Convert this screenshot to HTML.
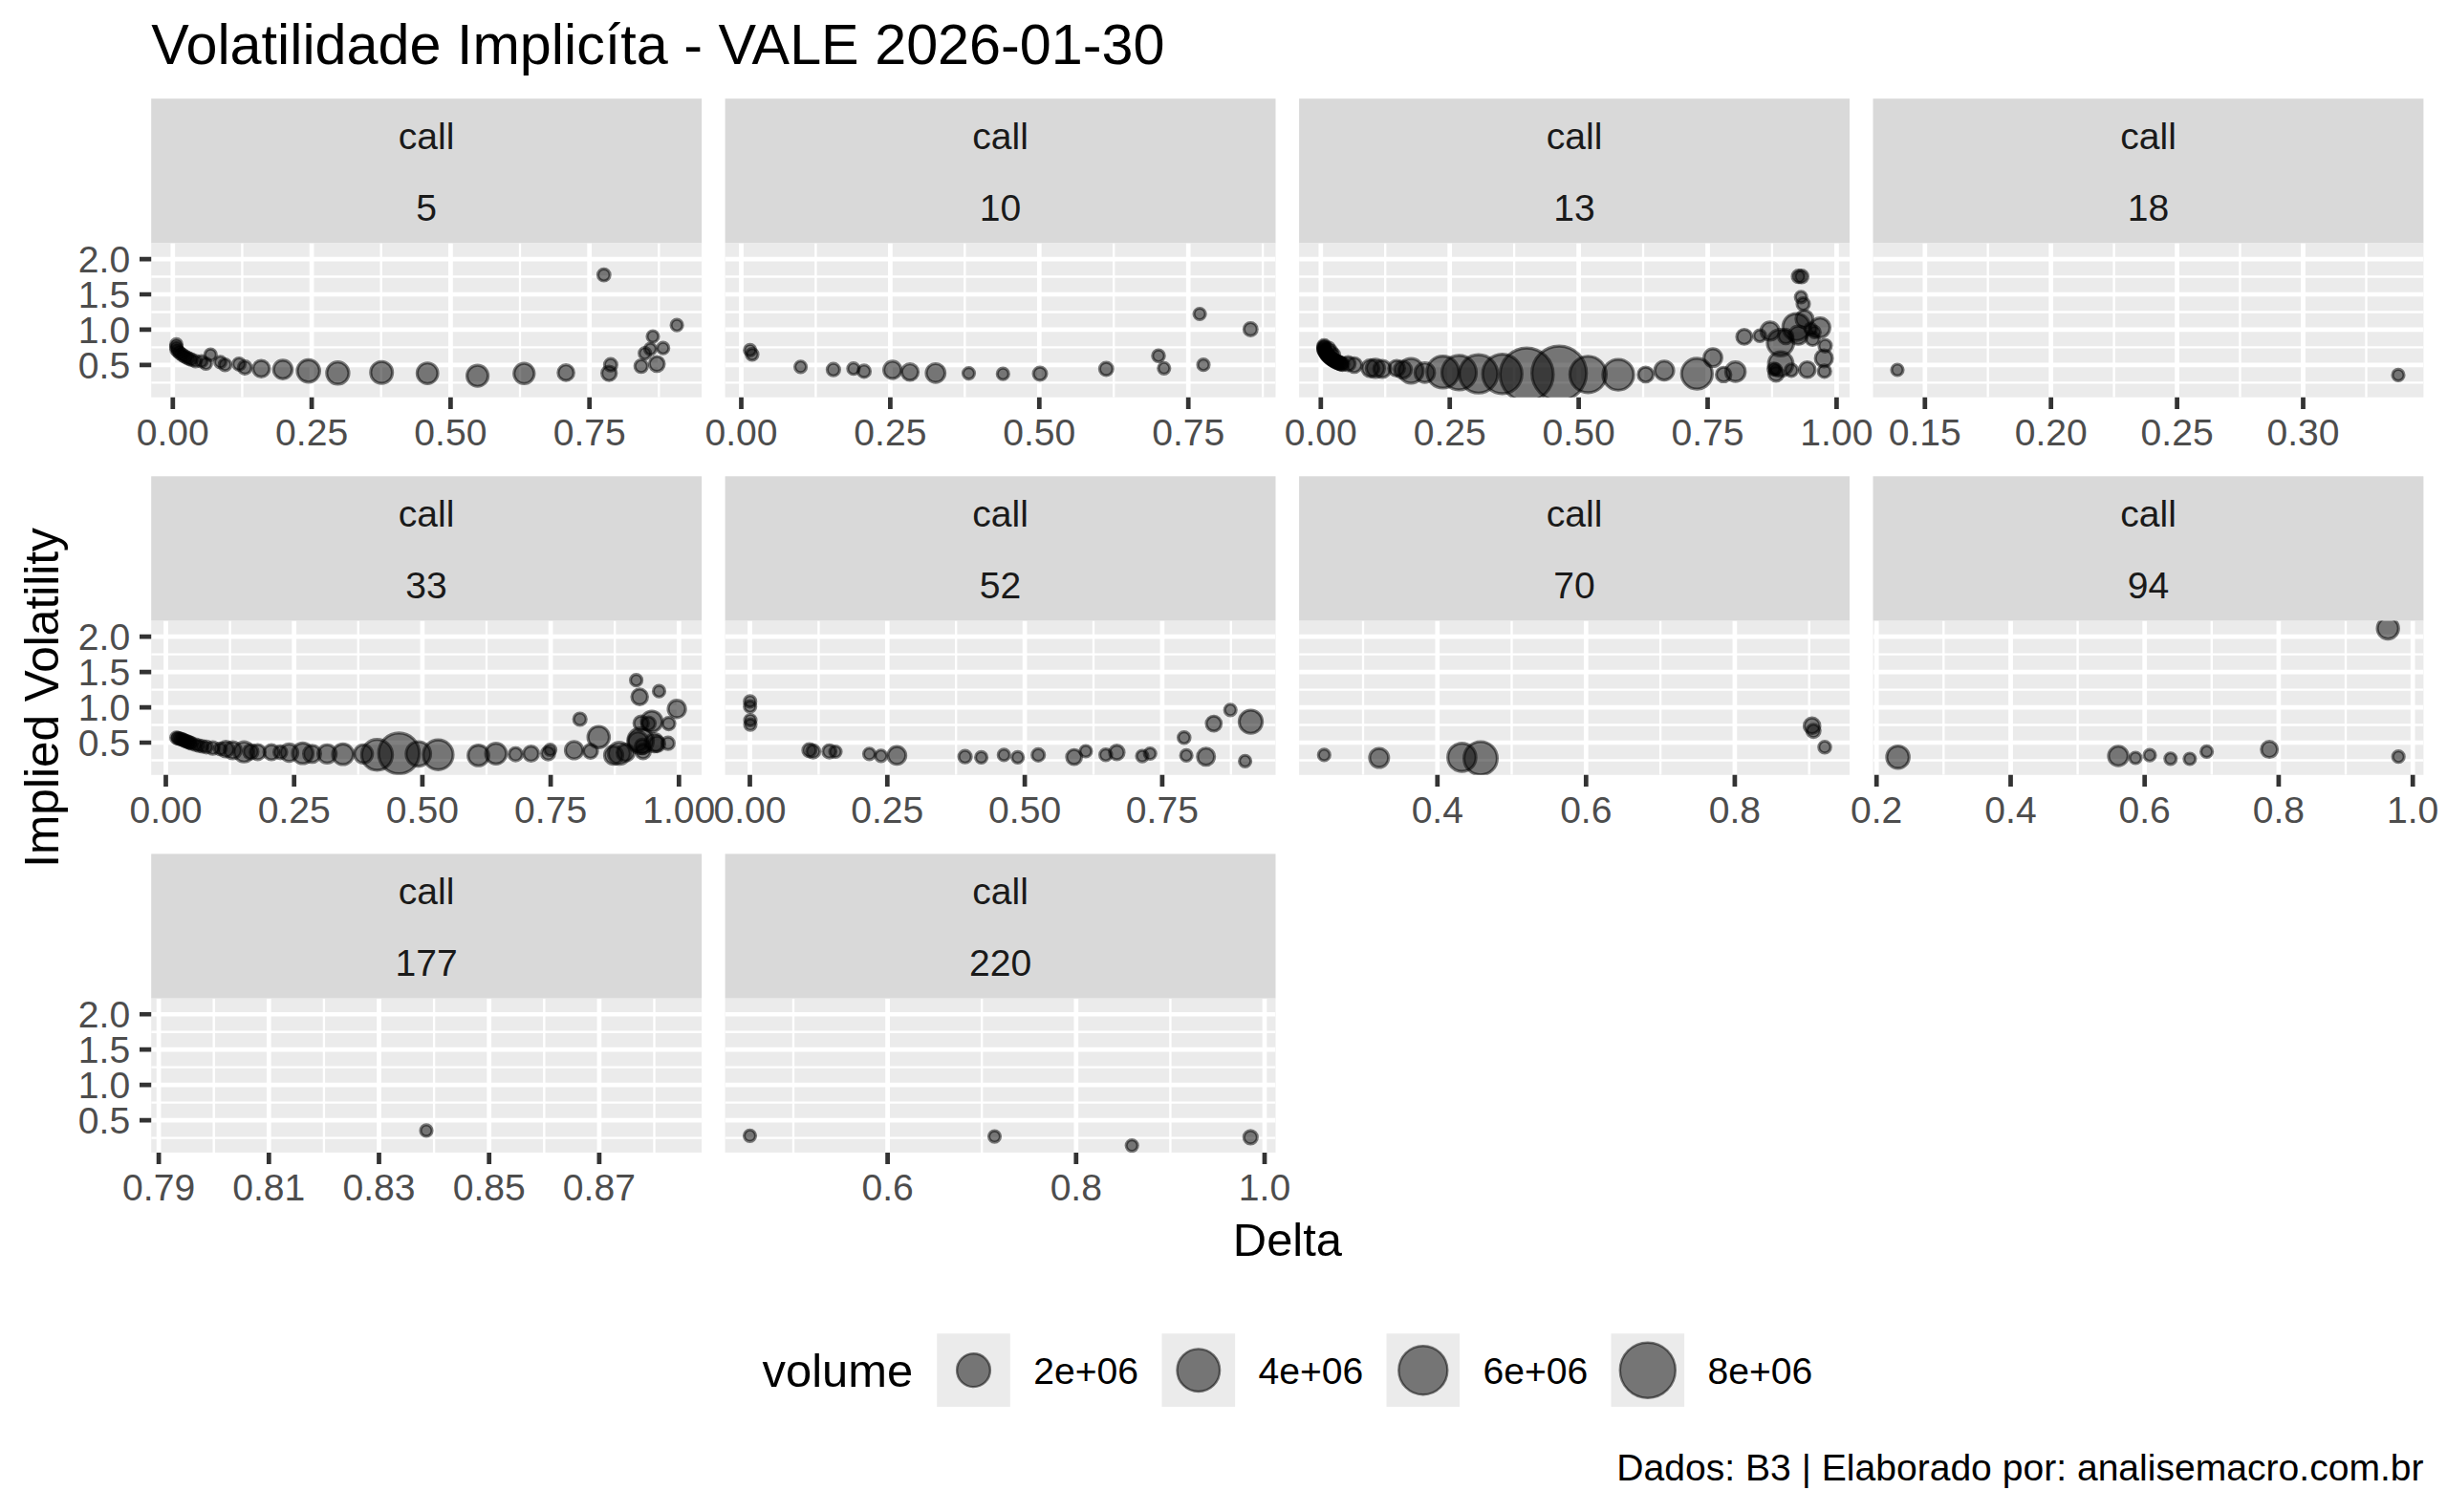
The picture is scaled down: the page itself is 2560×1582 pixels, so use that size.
<!DOCTYPE html>
<html><head><meta charset="utf-8"><title>Volatilidade Implicita</title>
<style>html,body{margin:0;padding:0;background:#fff}svg{display:block}text{font-family:"Liberation Sans",sans-serif}.ax{font-size:39.10px;fill:#4d4d4d}.st{font-size:39.10px;fill:#1a1a1a}.lb{font-size:48.90px;fill:#000}.lg{font-size:39.10px;fill:#000}.pt{fill:#000;fill-opacity:.5;stroke:#000;stroke-opacity:.5;stroke-width:3.15}.mj{stroke:#fff;stroke-width:4.74}.mn{stroke:#fff;stroke-width:2.37}.tk{stroke:#333;stroke-width:4.74}</style></head><body>
<svg width="2560" height="1582" viewBox="0 0 2560 1582">
<rect width="2560" height="1582" fill="#fff"/>
<text x="158.2" y="67" style="font-size:59.30px" fill="#000">Volatilidade Implicíta - VALE 2026-01-30</text>
<clipPath id="c0"><rect x="158.2" y="254.5" width="575.9" height="161.2"/></clipPath>
<clipPath id="c1"><rect x="758.6" y="254.5" width="575.9" height="161.2"/></clipPath>
<clipPath id="c2"><rect x="1359.1" y="254.5" width="575.9" height="161.2"/></clipPath>
<clipPath id="c3"><rect x="1959.5" y="254.5" width="575.9" height="161.2"/></clipPath>
<clipPath id="c4"><rect x="158.2" y="649.6" width="575.9" height="161.2"/></clipPath>
<clipPath id="c5"><rect x="758.6" y="649.6" width="575.9" height="161.2"/></clipPath>
<clipPath id="c6"><rect x="1359.1" y="649.6" width="575.9" height="161.2"/></clipPath>
<clipPath id="c7"><rect x="1959.5" y="649.6" width="575.9" height="161.2"/></clipPath>
<clipPath id="c8"><rect x="158.2" y="1044.7" width="575.9" height="161.2"/></clipPath>
<clipPath id="c9"><rect x="758.6" y="1044.7" width="575.9" height="161.2"/></clipPath>
<rect x="158.2" y="103.2" width="575.9" height="151.3" fill="#d9d9d9"/>
<text class="st" text-anchor="middle" x="446.1" y="155.6">call</text>
<text class="st" text-anchor="middle" x="446.1" y="231.2">5</text>
<rect x="158.2" y="254.5" width="575.9" height="161.2" fill="#ebebeb"/>
<g clip-path="url(#c0)">
<path class="mn" d="M158.2 400.38H734.1M158.2 363.42H734.1M158.2 326.47H734.1M158.2 289.52H734.1M253.40 254.5V415.7M398.70 254.5V415.7M544.00 254.5V415.7M689.30 254.5V415.7"/>
<path class="mj" d="M158.2 381.90H734.1M158.2 344.95H734.1M158.2 308.00H734.1M158.2 271.05H734.1M180.80 254.5V415.7M326.10 254.5V415.7M471.40 254.5V415.7M616.70 254.5V415.7"/>
<g class="pt"><circle cx="184.5" cy="360.4" r="6.02"/><circle cx="184.4" cy="363.1" r="6.02"/><circle cx="184.7" cy="365.8" r="6.02"/><circle cx="186.6" cy="367.8" r="6.02"/><circle cx="188.5" cy="369.7" r="6.02"/><circle cx="190.8" cy="371.3" r="6.02"/><circle cx="193.1" cy="372.8" r="6.02"/><circle cx="195.5" cy="374.1" r="6.02"/><circle cx="198.0" cy="375.3" r="6.02"/><circle cx="200.5" cy="376.4" r="6.02"/><circle cx="204.5" cy="377.9" r="6.02"/><circle cx="210.9" cy="378.0" r="6.02"/><circle cx="215.4" cy="380.5" r="6.02"/><circle cx="220.3" cy="371.1" r="6.02"/><circle cx="230.5" cy="378.8" r="6.02"/><circle cx="235.4" cy="381.7" r="6.22"/><circle cx="250.1" cy="380.9" r="6.42"/><circle cx="256.2" cy="384.5" r="6.83"/><circle cx="273.3" cy="385.7" r="8.62"/><circle cx="295.9" cy="386.6" r="9.73"/><circle cx="322.7" cy="388.1" r="11.73"/><circle cx="353.4" cy="390.3" r="11.62"/><circle cx="399.2" cy="389.7" r="11.43"/><circle cx="447.2" cy="390.6" r="10.83"/><circle cx="499.6" cy="393.2" r="11.03"/><circle cx="548.3" cy="390.8" r="10.62"/><circle cx="592.1" cy="389.9" r="8.23"/><circle cx="631.8" cy="287.7" r="6.33"/><circle cx="638.9" cy="381.7" r="6.52"/><circle cx="637.2" cy="390.6" r="7.62"/><circle cx="670.8" cy="383.1" r="6.62"/><circle cx="687.2" cy="380.8" r="7.83"/><circle cx="674.7" cy="369.7" r="6.02"/><circle cx="680.4" cy="365.1" r="6.02"/><circle cx="693.7" cy="364.2" r="6.02"/><circle cx="683.0" cy="352.0" r="6.02"/><circle cx="708.1" cy="340.2" r="6.02"/></g>
</g>
<path class="tk" d="M180.80 415.7V427.9M326.10 415.7V427.9M471.40 415.7V427.9M616.70 415.7V427.9"/>
<text class="ax" text-anchor="middle" x="180.8" y="466.1">0.00</text>
<text class="ax" text-anchor="middle" x="326.1" y="466.1">0.25</text>
<text class="ax" text-anchor="middle" x="471.4" y="466.1">0.50</text>
<text class="ax" text-anchor="middle" x="616.7" y="466.1">0.75</text>
<text class="ax" text-anchor="end" x="136.2" y="395.9">0.5</text>
<text class="ax" text-anchor="end" x="136.2" y="358.9">1.0</text>
<text class="ax" text-anchor="end" x="136.2" y="322.0">1.5</text>
<text class="ax" text-anchor="end" x="136.2" y="285.0">2.0</text>
<path class="tk" d="M146.0 381.90H158.2M146.0 344.95H158.2M146.0 308.00H158.2M146.0 271.05H158.2"/>
<rect x="758.6" y="103.2" width="575.9" height="151.3" fill="#d9d9d9"/>
<text class="st" text-anchor="middle" x="1046.6" y="155.6">call</text>
<text class="st" text-anchor="middle" x="1046.6" y="231.2">10</text>
<rect x="758.6" y="254.5" width="575.9" height="161.2" fill="#ebebeb"/>
<g clip-path="url(#c1)">
<path class="mn" d="M758.6 400.38H1334.5M758.6 363.42H1334.5M758.6 326.47H1334.5M758.6 289.52H1334.5M853.40 254.5V415.7M1009.30 254.5V415.7M1165.20 254.5V415.7M1321.10 254.5V415.7"/>
<path class="mj" d="M758.6 381.90H1334.5M758.6 344.95H1334.5M758.6 308.00H1334.5M758.6 271.05H1334.5M775.50 254.5V415.7M931.40 254.5V415.7M1087.30 254.5V415.7M1243.20 254.5V415.7"/>
<g class="pt"><circle cx="784.7" cy="366.4" r="6.02"/><circle cx="786.9" cy="370.8" r="6.12"/><circle cx="837.6" cy="383.8" r="6.02"/><circle cx="871.9" cy="386.7" r="6.52"/><circle cx="892.9" cy="385.7" r="6.02"/><circle cx="904.0" cy="388.4" r="6.52"/><circle cx="933.7" cy="387.0" r="9.12"/><circle cx="952.0" cy="389.3" r="8.62"/><circle cx="978.8" cy="390.3" r="9.83"/><circle cx="1013.5" cy="390.6" r="6.02"/><circle cx="1049.3" cy="391.2" r="6.02"/><circle cx="1088.0" cy="391.0" r="6.92"/><circle cx="1157.3" cy="386.0" r="6.92"/><circle cx="1212.0" cy="372.3" r="6.22"/><circle cx="1217.8" cy="385.3" r="6.02"/><circle cx="1255.1" cy="328.5" r="6.02"/><circle cx="1259.0" cy="381.7" r="6.02"/><circle cx="1308.3" cy="344.4" r="6.92"/></g>
</g>
<path class="tk" d="M775.50 415.7V427.9M931.40 415.7V427.9M1087.30 415.7V427.9M1243.20 415.7V427.9"/>
<text class="ax" text-anchor="middle" x="775.5" y="466.1">0.00</text>
<text class="ax" text-anchor="middle" x="931.4" y="466.1">0.25</text>
<text class="ax" text-anchor="middle" x="1087.3" y="466.1">0.50</text>
<text class="ax" text-anchor="middle" x="1243.2" y="466.1">0.75</text>
<rect x="1359.1" y="103.2" width="575.9" height="151.3" fill="#d9d9d9"/>
<text class="st" text-anchor="middle" x="1647.0" y="155.6">call</text>
<text class="st" text-anchor="middle" x="1647.0" y="231.2">13</text>
<rect x="1359.1" y="254.5" width="575.9" height="161.2" fill="#ebebeb"/>
<g clip-path="url(#c2)">
<path class="mn" d="M1359.1 400.38H1935.0M1359.1 363.42H1935.0M1359.1 326.47H1935.0M1359.1 289.52H1935.0M1449.20 254.5V415.7M1584.10 254.5V415.7M1719.00 254.5V415.7M1853.90 254.5V415.7"/>
<path class="mj" d="M1359.1 381.90H1935.0M1359.1 344.95H1935.0M1359.1 308.00H1935.0M1359.1 271.05H1935.0M1381.80 254.5V415.7M1516.70 254.5V415.7M1651.60 254.5V415.7M1786.50 254.5V415.7M1921.40 254.5V415.7"/>
<g class="pt"><circle cx="1385.3" cy="362.0" r="6.62"/><circle cx="1385.3" cy="363.3" r="6.62"/><circle cx="1385.2" cy="364.5" r="6.62"/><circle cx="1385.2" cy="365.8" r="6.62"/><circle cx="1385.8" cy="366.9" r="6.62"/><circle cx="1386.4" cy="368.0" r="6.62"/><circle cx="1387.1" cy="369.1" r="6.62"/><circle cx="1387.7" cy="370.2" r="6.62"/><circle cx="1388.4" cy="371.2" r="6.62"/><circle cx="1389.4" cy="372.1" r="6.62"/><circle cx="1390.3" cy="373.0" r="6.62"/><circle cx="1391.2" cy="373.9" r="6.62"/><circle cx="1392.1" cy="374.7" r="6.62"/><circle cx="1393.1" cy="375.5" r="6.62"/><circle cx="1394.2" cy="376.2" r="6.62"/><circle cx="1395.3" cy="376.9" r="6.62"/><circle cx="1396.3" cy="377.5" r="6.62"/><circle cx="1397.4" cy="378.2" r="6.62"/><circle cx="1398.5" cy="378.8" r="6.62"/><circle cx="1399.7" cy="379.3" r="6.62"/><circle cx="1400.9" cy="379.7" r="6.62"/><circle cx="1402.1" cy="380.1" r="6.62"/><circle cx="1403.3" cy="380.6" r="6.62"/><circle cx="1404.5" cy="381.0" r="6.62"/><circle cx="1390.0" cy="364.5" r="6.42"/><circle cx="1392.6" cy="367.8" r="6.42"/><circle cx="1395.3" cy="371.5" r="6.42"/><circle cx="1410.4" cy="380.5" r="7.42"/><circle cx="1416.8" cy="382.0" r="7.73"/><circle cx="1433.7" cy="385.3" r="8.93"/><circle cx="1438.9" cy="385.3" r="9.53"/><circle cx="1446.1" cy="386.0" r="8.93"/><circle cx="1461.2" cy="385.3" r="8.23"/><circle cx="1467.7" cy="386.7" r="8.93"/><circle cx="1476.2" cy="388.0" r="12.83"/><circle cx="1490.6" cy="389.9" r="10.23"/><circle cx="1509.5" cy="389.3" r="16.73"/><circle cx="1526.5" cy="389.9" r="18.03"/><circle cx="1546.8" cy="391.2" r="20.03"/><circle cx="1571.7" cy="391.2" r="20.62"/><circle cx="1597.2" cy="391.9" r="27.82"/><circle cx="1631.2" cy="390.6" r="28.53"/><circle cx="1661.4" cy="391.8" r="19.03"/><circle cx="1693.0" cy="392.1" r="16.12"/><circle cx="1721.7" cy="391.9" r="7.83"/><circle cx="1741.1" cy="387.7" r="9.93"/><circle cx="1775.3" cy="391.0" r="16.12"/><circle cx="1792.0" cy="374.2" r="9.33"/><circle cx="1803.2" cy="391.9" r="7.62"/><circle cx="1815.6" cy="388.9" r="10.23"/><circle cx="1824.8" cy="352.4" r="7.83"/><circle cx="1841.1" cy="351.3" r="6.22"/><circle cx="1851.8" cy="346.4" r="9.53"/><circle cx="1862.7" cy="358.5" r="13.83"/><circle cx="1868.2" cy="352.0" r="7.62"/><circle cx="1879.3" cy="342.2" r="14.12"/><circle cx="1881.3" cy="350.7" r="9.53"/><circle cx="1887.8" cy="333.7" r="8.93"/><circle cx="1904.2" cy="342.8" r="10.23"/><circle cx="1894.3" cy="344.2" r="6.22"/><circle cx="1898.3" cy="347.4" r="6.02"/><circle cx="1896.3" cy="354.6" r="6.92"/><circle cx="1909.4" cy="361.8" r="6.52"/><circle cx="1908.1" cy="374.9" r="8.93"/><circle cx="1908.7" cy="388.4" r="6.52"/><circle cx="1890.7" cy="386.7" r="8.23"/><circle cx="1874.1" cy="387.3" r="6.52"/><circle cx="1863.0" cy="380.8" r="12.83"/><circle cx="1855.8" cy="386.0" r="6.22"/><circle cx="1857.7" cy="386.7" r="6.02"/><circle cx="1858.1" cy="391.2" r="7.62"/><circle cx="1881.5" cy="289.2" r="6.52"/><circle cx="1884.8" cy="289.3" r="6.73"/><circle cx="1884.2" cy="310.8" r="6.02"/><circle cx="1886.5" cy="318.0" r="6.52"/></g>
</g>
<path class="tk" d="M1381.80 415.7V427.9M1516.70 415.7V427.9M1651.60 415.7V427.9M1786.50 415.7V427.9M1921.40 415.7V427.9"/>
<text class="ax" text-anchor="middle" x="1381.8" y="466.1">0.00</text>
<text class="ax" text-anchor="middle" x="1516.7" y="466.1">0.25</text>
<text class="ax" text-anchor="middle" x="1651.6" y="466.1">0.50</text>
<text class="ax" text-anchor="middle" x="1786.5" y="466.1">0.75</text>
<text class="ax" text-anchor="middle" x="1921.4" y="466.1">1.00</text>
<rect x="1959.5" y="103.2" width="575.9" height="151.3" fill="#d9d9d9"/>
<text class="st" text-anchor="middle" x="2247.5" y="155.6">call</text>
<text class="st" text-anchor="middle" x="2247.5" y="231.2">18</text>
<rect x="1959.5" y="254.5" width="575.9" height="161.2" fill="#ebebeb"/>
<g clip-path="url(#c3)">
<path class="mn" d="M1959.5 400.38H2535.4M1959.5 363.42H2535.4M1959.5 326.47H2535.4M1959.5 289.52H2535.4M2079.70 254.5V415.7M2211.60 254.5V415.7M2343.50 254.5V415.7M2475.50 254.5V415.7"/>
<path class="mj" d="M1959.5 381.90H2535.4M1959.5 344.95H2535.4M1959.5 308.00H2535.4M1959.5 271.05H2535.4M2013.80 254.5V415.7M2145.70 254.5V415.7M2277.60 254.5V415.7M2409.50 254.5V415.7"/>
<g class="pt"><circle cx="1985.0" cy="387.0" r="6.02"/><circle cx="2509.0" cy="392.4" r="6.02"/></g>
</g>
<path class="tk" d="M2013.80 415.7V427.9M2145.70 415.7V427.9M2277.60 415.7V427.9M2409.50 415.7V427.9"/>
<text class="ax" text-anchor="middle" x="2013.8" y="466.1">0.15</text>
<text class="ax" text-anchor="middle" x="2145.7" y="466.1">0.20</text>
<text class="ax" text-anchor="middle" x="2277.6" y="466.1">0.25</text>
<text class="ax" text-anchor="middle" x="2409.5" y="466.1">0.30</text>
<rect x="158.2" y="498.3" width="575.9" height="151.3" fill="#d9d9d9"/>
<text class="st" text-anchor="middle" x="446.1" y="550.7">call</text>
<text class="st" text-anchor="middle" x="446.1" y="626.3">33</text>
<rect x="158.2" y="649.6" width="575.9" height="161.2" fill="#ebebeb"/>
<g clip-path="url(#c4)">
<path class="mn" d="M158.2 795.48H734.1M158.2 758.52H734.1M158.2 721.58H734.1M158.2 684.62H734.1M240.60 649.6V810.8M374.80 649.6V810.8M509.00 649.6V810.8M643.20 649.6V810.8"/>
<path class="mj" d="M158.2 777.00H734.1M158.2 740.05H734.1M158.2 703.10H734.1M158.2 666.15H734.1M173.50 649.6V810.8M307.70 649.6V810.8M441.90 649.6V810.8M576.10 649.6V810.8M710.30 649.6V810.8"/>
<g class="pt"><circle cx="184.6" cy="771.8" r="6.02"/><circle cx="186.2" cy="772.3" r="6.02"/><circle cx="187.9" cy="772.8" r="6.02"/><circle cx="189.5" cy="773.3" r="6.02"/><circle cx="191.1" cy="773.9" r="6.02"/><circle cx="192.6" cy="774.6" r="6.02"/><circle cx="194.2" cy="775.3" r="6.02"/><circle cx="195.8" cy="775.9" r="6.02"/><circle cx="197.4" cy="776.6" r="6.02"/><circle cx="198.9" cy="777.2" r="6.02"/><circle cx="200.5" cy="777.9" r="6.02"/><circle cx="204.5" cy="779.2" r="6.02"/><circle cx="208.0" cy="780.1" r="6.02"/><circle cx="211.8" cy="780.9" r="6.02"/><circle cx="216.0" cy="781.6" r="6.22"/><circle cx="222.6" cy="782.6" r="6.62"/><circle cx="230.4" cy="783.6" r="6.22"/><circle cx="236.3" cy="783.8" r="8.23"/><circle cx="243.5" cy="785.0" r="8.93"/><circle cx="255.3" cy="786.7" r="10.53"/><circle cx="262.4" cy="786.6" r="7.62"/><circle cx="269.6" cy="786.9" r="7.92"/><circle cx="284.0" cy="787.1" r="7.92"/><circle cx="293.3" cy="787.1" r="6.73"/><circle cx="302.5" cy="787.5" r="9.12"/><circle cx="316.7" cy="788.2" r="10.83"/><circle cx="326.5" cy="788.8" r="8.93"/><circle cx="342.2" cy="788.8" r="9.53"/><circle cx="358.8" cy="789.2" r="10.83"/><circle cx="380.2" cy="788.8" r="9.53"/><circle cx="394.5" cy="789.8" r="16.12"/><circle cx="417.4" cy="788.2" r="21.32"/><circle cx="437.7" cy="788.8" r="12.83"/><circle cx="458.4" cy="789.7" r="15.62"/><circle cx="500.5" cy="790.4" r="10.83"/><circle cx="518.9" cy="788.5" r="10.83"/><circle cx="539.4" cy="789.2" r="6.92"/><circle cx="555.6" cy="788.5" r="7.83"/><circle cx="573.4" cy="788.2" r="6.92"/><circle cx="575.6" cy="784.5" r="6.02"/><circle cx="600.6" cy="784.9" r="9.12"/><circle cx="617.8" cy="786.0" r="7.33"/><circle cx="606.7" cy="752.5" r="6.52"/><circle cx="626.3" cy="771.2" r="11.23"/><circle cx="642.0" cy="790.2" r="9.53"/><circle cx="647.9" cy="788.2" r="11.53"/><circle cx="654.5" cy="787.5" r="8.93"/><circle cx="670.2" cy="775.1" r="13.43"/><circle cx="667.5" cy="775.8" r="10.23"/><circle cx="672.1" cy="781.0" r="7.62"/><circle cx="672.8" cy="786.2" r="7.62"/><circle cx="684.5" cy="777.1" r="9.53"/><circle cx="687.2" cy="778.4" r="8.23"/><circle cx="698.9" cy="777.7" r="6.52"/><circle cx="670.8" cy="756.8" r="7.62"/><circle cx="681.9" cy="754.8" r="10.83"/><circle cx="678.5" cy="757.0" r="7.02"/><circle cx="699.6" cy="757.1" r="6.52"/><circle cx="708.1" cy="741.8" r="9.12"/><circle cx="665.6" cy="711.7" r="6.02"/><circle cx="669.2" cy="729.1" r="8.23"/><circle cx="689.5" cy="723.2" r="6.02"/></g>
</g>
<path class="tk" d="M173.50 810.8V823.0M307.70 810.8V823.0M441.90 810.8V823.0M576.10 810.8V823.0M710.30 810.8V823.0"/>
<text class="ax" text-anchor="middle" x="173.5" y="861.2">0.00</text>
<text class="ax" text-anchor="middle" x="307.7" y="861.2">0.25</text>
<text class="ax" text-anchor="middle" x="441.9" y="861.2">0.50</text>
<text class="ax" text-anchor="middle" x="576.1" y="861.2">0.75</text>
<text class="ax" text-anchor="middle" x="710.3" y="861.2">1.00</text>
<text class="ax" text-anchor="end" x="136.2" y="791.0">0.5</text>
<text class="ax" text-anchor="end" x="136.2" y="754.0">1.0</text>
<text class="ax" text-anchor="end" x="136.2" y="717.1">1.5</text>
<text class="ax" text-anchor="end" x="136.2" y="680.1">2.0</text>
<path class="tk" d="M146.0 777.00H158.2M146.0 740.05H158.2M146.0 703.10H158.2M146.0 666.15H158.2"/>
<rect x="758.6" y="498.3" width="575.9" height="151.3" fill="#d9d9d9"/>
<text class="st" text-anchor="middle" x="1046.6" y="550.7">call</text>
<text class="st" text-anchor="middle" x="1046.6" y="626.3">52</text>
<rect x="758.6" y="649.6" width="575.9" height="161.2" fill="#ebebeb"/>
<g clip-path="url(#c5)">
<path class="mn" d="M758.6 795.48H1334.5M758.6 758.52H1334.5M758.6 721.58H1334.5M758.6 684.62H1334.5M856.40 649.6V810.8M1000.20 649.6V810.8M1144.00 649.6V810.8M1287.80 649.6V810.8"/>
<path class="mj" d="M758.6 777.00H1334.5M758.6 740.05H1334.5M758.6 703.10H1334.5M758.6 666.15H1334.5M784.50 649.6V810.8M928.30 649.6V810.8M1072.10 649.6V810.8M1215.90 649.6V810.8"/>
<g class="pt"><circle cx="784.7" cy="733.9" r="6.02"/><circle cx="784.7" cy="739.2" r="6.02"/><circle cx="785.0" cy="753.5" r="6.02"/><circle cx="785.0" cy="758.1" r="6.02"/><circle cx="846.8" cy="784.9" r="6.92"/><circle cx="850.7" cy="786.2" r="6.92"/><circle cx="867.7" cy="786.2" r="6.92"/><circle cx="874.0" cy="786.5" r="6.02"/><circle cx="909.5" cy="788.8" r="6.02"/><circle cx="921.7" cy="790.8" r="6.02"/><circle cx="938.3" cy="790.4" r="9.33"/><circle cx="1009.6" cy="791.7" r="6.52"/><circle cx="1026.6" cy="792.4" r="6.02"/><circle cx="1050.3" cy="789.9" r="6.02"/><circle cx="1064.7" cy="792.4" r="6.02"/><circle cx="1086.2" cy="789.9" r="6.52"/><circle cx="1123.7" cy="792.1" r="7.83"/><circle cx="1135.9" cy="786.0" r="6.02"/><circle cx="1156.8" cy="789.8" r="6.22"/><circle cx="1168.4" cy="787.3" r="7.62"/><circle cx="1195.0" cy="791.1" r="6.02"/><circle cx="1203.2" cy="788.5" r="6.02"/><circle cx="1238.8" cy="771.8" r="6.22"/><circle cx="1241.1" cy="790.4" r="6.02"/><circle cx="1261.7" cy="791.7" r="8.93"/><circle cx="1269.8" cy="757.1" r="7.83"/><circle cx="1287.2" cy="742.8" r="6.02"/><circle cx="1308.5" cy="755.1" r="12.12"/><circle cx="1302.6" cy="796.3" r="6.02"/></g>
</g>
<path class="tk" d="M784.50 810.8V823.0M928.30 810.8V823.0M1072.10 810.8V823.0M1215.90 810.8V823.0"/>
<text class="ax" text-anchor="middle" x="784.5" y="861.2">0.00</text>
<text class="ax" text-anchor="middle" x="928.3" y="861.2">0.25</text>
<text class="ax" text-anchor="middle" x="1072.1" y="861.2">0.50</text>
<text class="ax" text-anchor="middle" x="1215.9" y="861.2">0.75</text>
<rect x="1359.1" y="498.3" width="575.9" height="151.3" fill="#d9d9d9"/>
<text class="st" text-anchor="middle" x="1647.0" y="550.7">call</text>
<text class="st" text-anchor="middle" x="1647.0" y="626.3">70</text>
<rect x="1359.1" y="649.6" width="575.9" height="161.2" fill="#ebebeb"/>
<g clip-path="url(#c6)">
<path class="mn" d="M1359.1 795.48H1935.0M1359.1 758.52H1935.0M1359.1 721.58H1935.0M1359.1 684.62H1935.0M1426.00 649.6V810.8M1581.50 649.6V810.8M1737.10 649.6V810.8M1892.70 649.6V810.8"/>
<path class="mj" d="M1359.1 777.00H1935.0M1359.1 740.05H1935.0M1359.1 703.10H1935.0M1359.1 666.15H1935.0M1503.80 649.6V810.8M1659.30 649.6V810.8M1814.90 649.6V810.8"/>
<g class="pt"><circle cx="1385.3" cy="789.9" r="6.02"/><circle cx="1442.8" cy="793.0" r="9.93"/><circle cx="1529.4" cy="792.4" r="14.73"/><circle cx="1549.0" cy="793.4" r="17.43"/><circle cx="1895.7" cy="759.4" r="8.23"/><circle cx="1897.2" cy="764.7" r="6.92"/><circle cx="1909.0" cy="781.7" r="6.22"/></g>
</g>
<path class="tk" d="M1503.80 810.8V823.0M1659.30 810.8V823.0M1814.90 810.8V823.0"/>
<text class="ax" text-anchor="middle" x="1503.8" y="861.2">0.4</text>
<text class="ax" text-anchor="middle" x="1659.3" y="861.2">0.6</text>
<text class="ax" text-anchor="middle" x="1814.9" y="861.2">0.8</text>
<rect x="1959.5" y="498.3" width="575.9" height="151.3" fill="#d9d9d9"/>
<text class="st" text-anchor="middle" x="2247.5" y="550.7">call</text>
<text class="st" text-anchor="middle" x="2247.5" y="626.3">94</text>
<rect x="1959.5" y="649.6" width="575.9" height="161.2" fill="#ebebeb"/>
<g clip-path="url(#c7)">
<path class="mn" d="M1959.5 795.48H2535.4M1959.5 758.52H2535.4M1959.5 721.58H2535.4M1959.5 684.62H2535.4M2033.30 649.6V810.8M2173.60 649.6V810.8M2313.80 649.6V810.8M2454.00 649.6V810.8"/>
<path class="mj" d="M1959.5 777.00H2535.4M1959.5 740.05H2535.4M1959.5 703.10H2535.4M1959.5 666.15H2535.4M1963.20 649.6V810.8M2103.50 649.6V810.8M2243.70 649.6V810.8M2383.90 649.6V810.8M2524.20 649.6V810.8"/>
<g class="pt"><circle cx="1985.6" cy="792.2" r="11.73"/><circle cx="2216.1" cy="791.0" r="10.23"/><circle cx="2234.1" cy="793.0" r="6.02"/><circle cx="2249.0" cy="790.2" r="6.02"/><circle cx="2270.8" cy="793.8" r="6.02"/><circle cx="2290.9" cy="794.0" r="6.02"/><circle cx="2308.6" cy="786.4" r="6.02"/><circle cx="2374.2" cy="784.1" r="8.43"/><circle cx="2509.2" cy="791.7" r="6.02"/><circle cx="2498.2" cy="657.5" r="11.12"/></g>
</g>
<path class="tk" d="M1963.20 810.8V823.0M2103.50 810.8V823.0M2243.70 810.8V823.0M2383.90 810.8V823.0M2524.20 810.8V823.0"/>
<text class="ax" text-anchor="middle" x="1963.2" y="861.2">0.2</text>
<text class="ax" text-anchor="middle" x="2103.5" y="861.2">0.4</text>
<text class="ax" text-anchor="middle" x="2243.7" y="861.2">0.6</text>
<text class="ax" text-anchor="middle" x="2383.9" y="861.2">0.8</text>
<text class="ax" text-anchor="middle" x="2524.2" y="861.2">1.0</text>
<rect x="158.2" y="893.4" width="575.9" height="151.3" fill="#d9d9d9"/>
<text class="st" text-anchor="middle" x="446.1" y="945.8">call</text>
<text class="st" text-anchor="middle" x="446.1" y="1021.4">177</text>
<rect x="158.2" y="1044.7" width="575.9" height="161.2" fill="#ebebeb"/>
<g clip-path="url(#c8)">
<path class="mn" d="M158.2 1190.57H734.1M158.2 1153.62H734.1M158.2 1116.67H734.1M158.2 1079.72H734.1M223.70 1044.7V1205.9M338.90 1044.7V1205.9M454.10 1044.7V1205.9M569.30 1044.7V1205.9M684.50 1044.7V1205.9"/>
<path class="mj" d="M158.2 1172.10H734.1M158.2 1135.15H734.1M158.2 1098.20H734.1M158.2 1061.25H734.1M166.10 1044.7V1205.9M281.30 1044.7V1205.9M396.50 1044.7V1205.9M511.70 1044.7V1205.9M626.90 1044.7V1205.9"/>
<g class="pt"><circle cx="446.0" cy="1182.9" r="6.02"/></g>
</g>
<path class="tk" d="M166.10 1205.9V1218.1M281.30 1205.9V1218.1M396.50 1205.9V1218.1M511.70 1205.9V1218.1M626.90 1205.9V1218.1"/>
<text class="ax" text-anchor="middle" x="166.1" y="1256.3">0.79</text>
<text class="ax" text-anchor="middle" x="281.3" y="1256.3">0.81</text>
<text class="ax" text-anchor="middle" x="396.5" y="1256.3">0.83</text>
<text class="ax" text-anchor="middle" x="511.7" y="1256.3">0.85</text>
<text class="ax" text-anchor="middle" x="626.9" y="1256.3">0.87</text>
<text class="ax" text-anchor="end" x="136.2" y="1186.1">0.5</text>
<text class="ax" text-anchor="end" x="136.2" y="1149.1">1.0</text>
<text class="ax" text-anchor="end" x="136.2" y="1112.2">1.5</text>
<text class="ax" text-anchor="end" x="136.2" y="1075.2">2.0</text>
<path class="tk" d="M146.0 1172.10H158.2M146.0 1135.15H158.2M146.0 1098.20H158.2M146.0 1061.25H158.2"/>
<rect x="758.6" y="893.4" width="575.9" height="151.3" fill="#d9d9d9"/>
<text class="st" text-anchor="middle" x="1046.6" y="945.8">call</text>
<text class="st" text-anchor="middle" x="1046.6" y="1021.4">220</text>
<rect x="758.6" y="1044.7" width="575.9" height="161.2" fill="#ebebeb"/>
<g clip-path="url(#c9)">
<path class="mn" d="M758.6 1190.57H1334.5M758.6 1153.62H1334.5M758.6 1116.67H1334.5M758.6 1079.72H1334.5M830.00 1044.7V1205.9M1027.20 1044.7V1205.9M1224.40 1044.7V1205.9"/>
<path class="mj" d="M758.6 1172.10H1334.5M758.6 1135.15H1334.5M758.6 1098.20H1334.5M758.6 1061.25H1334.5M928.60 1044.7V1205.9M1125.80 1044.7V1205.9M1323.00 1044.7V1205.9"/>
<g class="pt"><circle cx="784.5" cy="1188.3" r="6.02"/><circle cx="1040.5" cy="1189.1" r="6.02"/><circle cx="1184.2" cy="1198.6" r="6.02"/><circle cx="1308.3" cy="1189.9" r="7.02"/></g>
</g>
<path class="tk" d="M928.60 1205.9V1218.1M1125.80 1205.9V1218.1M1323.00 1205.9V1218.1"/>
<text class="ax" text-anchor="middle" x="928.6" y="1256.3">0.6</text>
<text class="ax" text-anchor="middle" x="1125.8" y="1256.3">0.8</text>
<text class="ax" text-anchor="middle" x="1323.0" y="1256.3">1.0</text>
<text class="lb" text-anchor="middle" x="1346.9" y="1313.6">Delta</text>
<text class="lb" style="font-size:49.6px" text-anchor="middle" transform="translate(60.6,730.0) rotate(-90)">Implied Volatility</text>
<text class="lb" x="797.5" y="1450.9">volume</text>
<rect x="980.2" y="1395.3" width="76.6" height="76.6" fill="#ebebeb"/>
<circle class="pt" style="stroke-width:2.4" cx="1018.5" cy="1433.7" r="17.40"/>
<text class="lg" x="1081.2" y="1448.4">2e+06</text>
<rect x="1215.5" y="1395.3" width="76.6" height="76.6" fill="#ebebeb"/>
<circle class="pt" style="stroke-width:2.4" cx="1253.8" cy="1433.7" r="22.30"/>
<text class="lg" x="1316.5" y="1448.4">4e+06</text>
<rect x="1450.5" y="1395.3" width="76.6" height="76.6" fill="#ebebeb"/>
<circle class="pt" style="stroke-width:2.4" cx="1488.8" cy="1433.7" r="25.50"/>
<text class="lg" x="1551.5" y="1448.4">6e+06</text>
<rect x="1685.5" y="1395.3" width="76.6" height="76.6" fill="#ebebeb"/>
<circle class="pt" style="stroke-width:2.4" cx="1723.8" cy="1433.7" r="29.00"/>
<text class="lg" x="1786.5" y="1448.4">8e+06</text>
<text class="lg" text-anchor="end" x="2535.6" y="1548.8">Dados: B3 | Elaborado por: analisemacro.com.br</text>
</svg></body></html>
